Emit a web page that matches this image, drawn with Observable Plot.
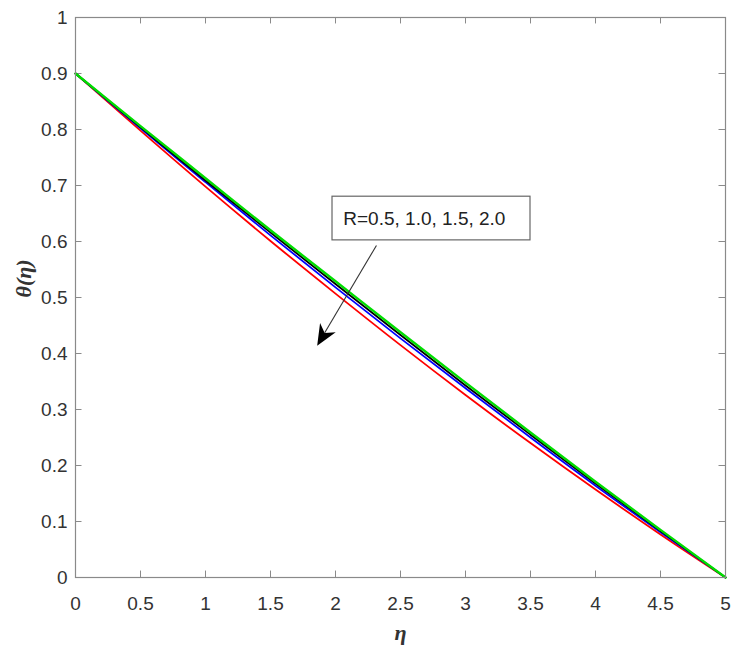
<!DOCTYPE html>
<html>
<head>
<meta charset="utf-8">
<script src="https://cdn.jsdelivr.net/npm/d3@7"></script>
<script src="https://cdn.jsdelivr.net/npm/@observablehq/plot@0.6"></script>
<style>
  html, body { margin: 0; padding: 0; background: #fff; }
</style>
</head>
<body>
<div id="chart"></div>
<script>
// ---- data ----
const eta = [0, 0.5, 1, 1.5, 2, 2.5, 3, 3.5, 4, 4.5, 5];
const thetaGreen = [0.900, 0.806, 0.713, 0.620, 0.529, 0.438, 0.348, 0.259, 0.171, 0.085, 0.000];
const thetaBlack = [0.900, 0.804, 0.709, 0.616, 0.524, 0.433, 0.343, 0.255, 0.168, 0.083, 0.000];
const thetaBlue  = [0.900, 0.802, 0.706, 0.611, 0.518, 0.427, 0.338, 0.250, 0.164, 0.081, 0.000];
const thetaRed   = [0.900, 0.798, 0.698, 0.601, 0.507, 0.415, 0.326, 0.240, 0.157, 0.077, 0.000];

const seriesValues = [thetaRed, thetaBlue, thetaBlack, thetaGreen];
const seriesColors = ["#ff0000", "#0000ff", "#000000", "#00dd00"];

const xTicks = [0, 0.5, 1, 1.5, 2, 2.5, 3, 3.5, 4, 4.5, 5];
const yTicks = [0, 0.1, 0.2, 0.3, 0.4, 0.5, 0.6, 0.7, 0.8, 0.9, 1];

const legendText = "R=0.5, 1.0, 1.5, 2.0";
const legendBox = [{x1: 1.977, x2: 3.5, y1: 0.602, y2: 0.680}];
const legendTextPos = [{x: 2.06, y: 0.641}];
const arrowLine = [{x1: 2.315, y1: 0.593, x2: 1.917, y2: 0.437}];
const arrowHead = [{x: 1.859, y: 0.414}];

const xLabel = "η";
const yLabel = "θ(η)";

// concave arrowhead symbol, tip at origin pointing up
const arrowSymbol = {
  draw(context, size) {
    const r = Math.sqrt(size / Math.PI);
    const L = 3.0 * r, w = 1.3 * r;
    context.moveTo(0, 0);
    context.lineTo(-w, L);
    context.lineTo(0, 0.7 * L);
    context.lineTo(w, L);
    context.closePath();
  }
};

// ---- build ----
const seriesMarks = seriesValues.map((vals, i) =>
  Plot.line(eta.map((e, j) => ({eta: e, theta: vals[j]})), {
    x: "eta", y: "theta", stroke: seriesColors[i],
    strokeWidth: i === 3 ? 2.4 : 1.8, curve: "monotone-x"
  })
);

const tickColor = "#8a8a8a";
const serif = "'Liberation Serif', 'Times New Roman', serif";

const plot = Plot.plot({
  width: 733,
  height: 650,
  marginLeft: 75,
  marginRight: 8,
  marginTop: 17,
  marginBottom: 73,
  x: {domain: [0, 5]},
  y: {domain: [0, 1]},
  style: {
    fontFamily: "'Liberation Sans', Arial, sans-serif",
    fontSize: "19px",
    background: "white",
    color: "#333"
  },
  marks: [
    // inward ticks on all four sides
    Plot.ruleX(xTicks, {x: d => d, y1: 0, y2: 0.0115, stroke: tickColor}),
    Plot.ruleX(xTicks, {x: d => d, y1: 1, y2: 0.9885, stroke: tickColor}),
    Plot.ruleY(yTicks, {y: d => d, x1: 0, x2: 0.05, stroke: tickColor}),
    Plot.ruleY(yTicks, {y: d => d, x1: 5, x2: 4.95, stroke: tickColor}),
    ...seriesMarks,
    Plot.frame({stroke: tickColor, strokeWidth: 1.2}),
    Plot.axisX(xTicks, {tickSize: 0, tickPadding: 19, label: null, tickFormat: d => String(d), fill: "#333", fontSize: 19}),
    Plot.axisY(yTicks, {tickSize: 0, tickPadding: 8, label: null, tickFormat: d => String(d), fill: "#333", fontSize: 19}),
    // legend annotation
    Plot.rect(legendBox, {x1: "x1", x2: "x2", y1: "y1", y2: "y2", fill: "white", stroke: "#666", strokeWidth: 1.2}),
    Plot.text(legendTextPos, {x: "x", y: "y", text: () => legendText, textAnchor: "start", fontSize: 19, fill: "#222"}),
    Plot.link(arrowLine, {x1: "x1", y1: "y1", x2: "x2", y2: "y2", stroke: "#333", strokeWidth: 1.1}),
    Plot.dot(arrowHead, {x: "x", y: "y", symbol: arrowSymbol, r: 7, fill: "black", stroke: "none", rotate: 210.7}),
    // axis titles
    Plot.text([yLabel], {text: d => d, frameAnchor: "left", dx: -52, rotate: -90,
      fontFamily: serif, fontWeight: "bold", fontStyle: "italic", fontSize: 22, fill: "#333"}),
    Plot.text([xLabel], {text: d => d, frameAnchor: "bottom", dy: 62,
      fontFamily: serif, fontWeight: "bold", fontStyle: "italic", fontSize: 22, fill: "#333"})
  ]
});

document.getElementById("chart").appendChild(plot);
</script>
</body>
</html>
